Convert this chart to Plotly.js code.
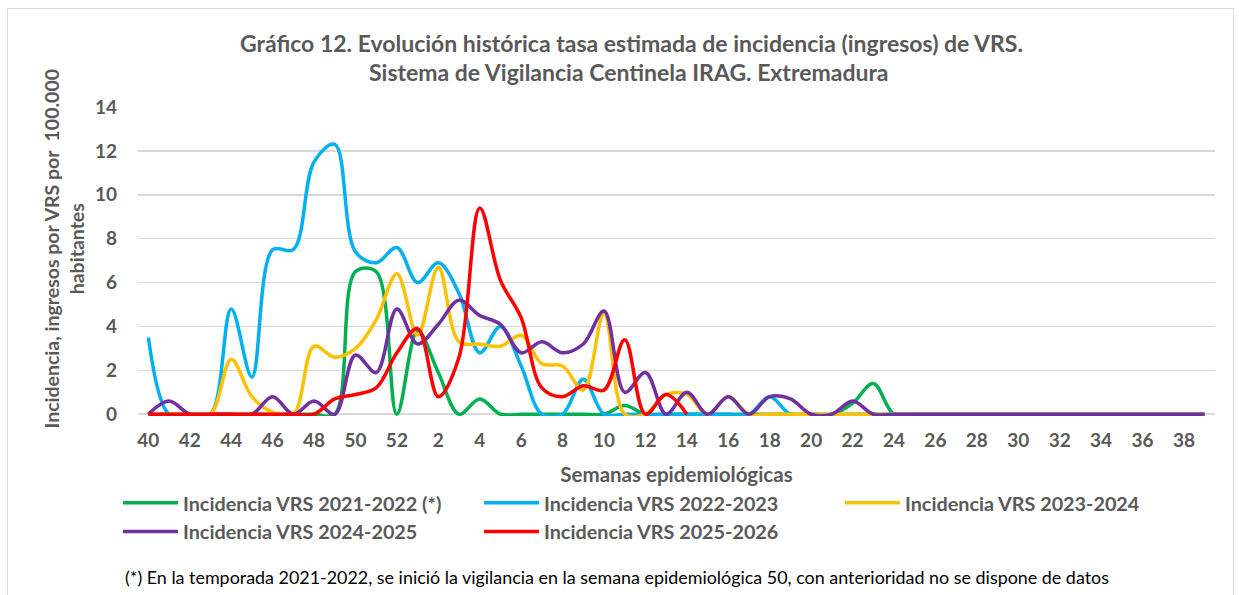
<!DOCTYPE html>
<html>
<head>
<meta charset="utf-8">
<script src="https://cdn.plot.ly/plotly-3.0.1.min.js"></script>
<style>
  body { margin: 0; background: #fff; }
  #wrap { position: relative; width: 1239px; height: 595px; }
  #chart { width: 1239px; height: 595px; }
  #frame { position: absolute; left: 7px; top: 8px; width: 1225px; height: 600px;
           border: 1px solid #d9d9d9; pointer-events: none; }
</style>
</head>
<body>
<div id="wrap">
  <div id="chart"></div>
  <div id="frame"></div>
</div>
<script>
// Semanas epidemiológicas (temporada 40 -> 39)
const weeks = ['40','41','42','43','44','45','46','47','48','49','50','51','52',
  '1','2','3','4','5','6','7','8','9','10','11','12','13','14','15','16','17','18','19',
  '20','21','22','23','24','25','26','27','28','29','30','31','32','33','34','35','36','37','38','39'];

// Tasas estimadas por 100.000 habitantes
const vrs2122 = [0,0,0,0,0,0,0,0,0,0,6.5,6.5,0,
  3.8,1.9,0,0.7,0,0,0,0,0,0,0.4,0,0,0,0,0,0,0,0,0,0,0.5,1.4,0,
  0,0,0,0,0,0,0,0,0,0,0,0,0,0,0];
const vrs2223 = [3.5,0,0,0,4.8,1.7,7.5,7.5,11.5,12.3,7.4,6.9,7.6,
  6.0,6.9,5.5,2.8,4.0,2.2,0,0,1.6,0,0,0,0,0,0,0,0,0.8,0,0,0,0,0,0,
  0,0,0,0,0,0,0,0,0,0,0,0,0,0,0];
const vrs2324 = [0,0,0,0,2.5,0.8,0.1,0,3.1,2.6,3.0,4.3,6.4,
  3.6,6.7,3.3,3.2,3.1,3.6,2.3,2.2,1.1,4.6,0,0,0.9,0.9,0,0.8,0,0,0,0,0,0,0,0,
  0,0,0,0,0,0,0,0,0,0,0,0,0,0,0];
const vrs2425 = [0,0.6,0,0,0,0,0.8,0,0.6,0,2.7,1.9,4.8,
  3.2,4.1,5.2,4.5,4.1,2.8,3.3,2.8,3.2,4.7,1.0,1.9,0,1.0,0,0.8,0,0.8,0.7,0,0,0.6,0,0,
  0,0,0,0,0,0,0,0,0,0,0,0,0,0,0];
const vrs2526 = [0,0,0,0,0,0,0,0,0,0.7,0.9,1.2,2.8,
  3.9,0.8,2.6,9.4,6.1,4.4,1.2,0.8,1.3,1.1,3.4,0,0.9,0];

const seriesNames = ['Incidencia VRS 2021-2022 (*)', 'Incidencia VRS 2022-2023',
  'Incidencia VRS 2023-2024', 'Incidencia VRS 2024-2025', 'Incidencia VRS 2025-2026'];
const seriesColors = ['#00B050', '#00B0F0', '#FFC000', '#7030A0', '#FF0000'];
const seriesValues = [vrs2122, vrs2223, vrs2324, vrs2425, vrs2526];

const labelTicks = weeks.filter((w, i) => i % 2 === 0);

const FONT = 'Lato, "Open Sans", sans-serif';
const GREY = '#595959';

const traces = seriesValues.map((vals, k) => ({
  x: weeks.slice(0, vals.length),
  y: vals,
  name: seriesNames[k],
  type: 'scatter',
  mode: 'lines',
  line: { color: seriesColors[k], width: 3.5, shape: 'spline', smoothing: 1 },
  hoverinfo: 'x+y+name'
}));

const layout = {
  width: 1239,
  height: 595,
  margin: { l: 138, r: 24, t: 107, b: 179 },
  paper_bgcolor: '#fff',
  plot_bgcolor: '#fff',
  showlegend: true,
  font: { family: FONT, color: GREY },
  xaxis: {
    type: 'category',
    categoryorder: 'array',
    categoryarray: weeks,
    range: [-0.5, weeks.length - 0.5],
    tickmode: 'array',
    tickvals: labelTicks,
    ticktext: labelTicks,
    ticks: '',
    showgrid: false,
    showline: false,
    zeroline: false,
    ticklabelstandoff: 11,
    tickfont: { family: FONT, size: 19, color: GREY, weight: 'bold' },
    title: {
      text: 'Semanas epidemiológicas',
      standoff: 17,
      font: { family: FONT, size: 20.5, color: GREY, weight: 'bold' }
    }
  },
  yaxis: {
    range: [-0.08, 14],
    tickmode: 'linear',
    tick0: 0,
    dtick: 2,
    ticks: '',
    showgrid: true,
    gridcolor: '#d9d9d9',
    gridwidth: 1.5,
    zeroline: false,
    showline: false,
    ticklabelstandoff: 20,
    tickfont: { family: FONT, size: 19, color: GREY, weight: 'bold' }
  },
  legend: {
    orientation: 'h',
    x: (118 - 138) / 1077,
    xanchor: 'left',
    y: (414 - 481) / 307,
    yanchor: 'top',
    traceorder: 'normal',
    entrywidth: 291,
    entrywidthmode: 'pixels',
    itemwidth: 55,
    bgcolor: 'rgba(0,0,0,0)',
    font: { family: FONT, size: 19.8, color: GREY, weight: 'bold' }
  },
  annotations: [
    {
      text: 'Gráfico 12. Evolución histórica tasa estimada de incidencia (ingresos) de VRS.',
      xref: 'paper', yref: 'paper', x: 0.5, xshift: -45, y: (414 - 43) / 307,
      xanchor: 'center', yanchor: 'middle', showarrow: false,
      font: { family: FONT, size: 23, color: GREY, weight: 'bold' }
    },
    {
      text: 'Sistema de Vigilancia Centinela IRAG. Extremadura',
      xref: 'paper', yref: 'paper', x: 0.5, xshift: -48, y: (414 - 72) / 307,
      xanchor: 'center', yanchor: 'middle', showarrow: false,
      font: { family: FONT, size: 23, color: GREY, weight: 'bold' }
    },
    {
      text: 'Incidencia, ingresos por VRS por  100.000<br>habitantes',
      xref: 'paper', yref: 'paper', x: 0, xshift: -75, y: 0.5, yshift: 13,
      xanchor: 'center', yanchor: 'middle', textangle: -90, showarrow: false,
      font: { family: FONT, size: 19.5, color: GREY, weight: 'bold' }
    },
    {
      text: '(*) En la temporada 2021-2022, se inició la vigilancia en la semana epidemiológica 50, con anterioridad no se dispone de datos',
      xref: 'paper', yref: 'paper', x: (123 - 138) / 1077, y: (414 - 574) / 307,
      xanchor: 'left', yanchor: 'middle', showarrow: false,
      font: { family: FONT, size: 17.9, color: '#000' }
    }
  ]
};

Plotly.newPlot('chart', traces, layout, { displayModeBar: false, staticPlot: true });
</script>
</body>
</html>
